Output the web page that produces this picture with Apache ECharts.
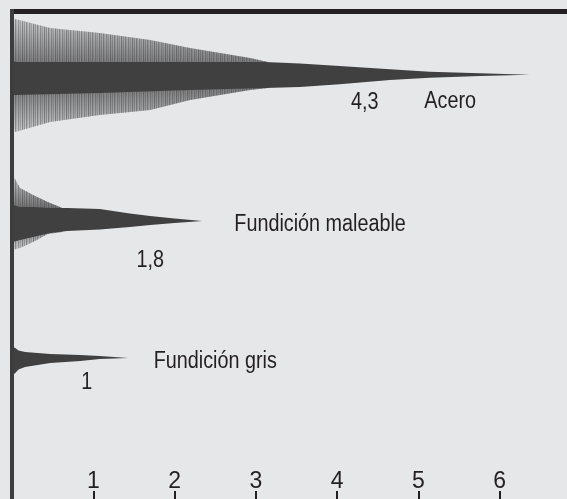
<!DOCTYPE html>
<html>
<head>
<meta charset="utf-8">
<script src="https://cdn.jsdelivr.net/npm/echarts@6/dist/echarts.min.js"></script>
<style>
    html, body { margin: 0; padding: 0; background: #e6e7e8; }
    #main { width: 567px; height: 499px; }
</style>
</head>
<body>
<div id="main"></div>
<script type="text/javascript">
    // eje de tiempo
    var xTicks = [1, 2, 3, 4, 5, 6];
    var names = ['Acero', 'Fundición maleable', 'Fundición gris'];
    var durations = ['4,3', '1,8', '1'];

    // Acero: envolvente del núcleo (arriba / abajo) y de los picos exteriores
    var aceroT        = [0.01, 0.04, 1.08, 2.19, 3.11, 3.54, 4.03, 4.65, 5.14, 5.76, 6.37];
    var aceroUp       = [15, 14, 14, 14, 14, 12.5, 10, 6.7, 4.3, 2.7, 1.3];
    var aceroDown     = [-19, -19, -17, -14, -12, -11, -8.3, -4, -1.7, 0, 1.3];
    var aceroHairT    = [0.01, 0.04, 0.47, 1.08, 1.70, 2.19, 2.93, 3.15];
    var aceroHairUp   = [56, 57, 48, 43, 36, 28, 18, 14];
    var aceroHairDown = [-50, -56, -46, -39, -34, -24, -14, -12];

    // Fundición maleable
    var maleT        = [0.01, 0.10, 0.26, 0.47, 0.68, 1.08, 1.45, 1.70, 2.0, 2.34];
    var maleUp       = [16, 14, 14, 13, 13, 12, 7.5, 5, 2.5, 0];
    var maleDown     = [-21, -19, -16, -12, -10, -8.5, -6, -4, -2, 0];
    var maleHairT    = [0.01, 0.10, 0.26, 0.44, 0.62];
    var maleHairUp   = [46, 33, 26, 19, 13];
    var maleHairDown = [-29, -27, -21, -13, -11];

    // Fundición gris
    var grisT    = [0.01, 0.04, 0.08, 0.16, 0.47, 0.84, 1.08, 1.43];
    var grisUp   = [11, 10, 7.5, 6, 4, 3, 2, 0];
    var grisDown = [-17, -15, -11.5, -9, -5, -3, -1, 0];

    var ink = '#231f20';
    var waveColor = '#404041';
    var fontFamily = 'Liberation Sans';

    // textura de rayas verticales para los picos
    var stripeAlpha = [0.95, 0.25, 0.7, 0.1, 0.85, 0.35, 0.15, 0.75, 0.3, 0.55, 0.1];
    var stripes = document.createElement('canvas');
    stripes.width = stripeAlpha.length;
    stripes.height = 4;
    var sctx = stripes.getContext('2d');
    for (var s = 0; s < stripeAlpha.length; s++) {
        sctx.fillStyle = 'rgba(64,64,65,' + stripeAlpha[s] + ')';
        sctx.fillRect(s, 0, 1, 4);
    }

    function envelope(api, base, t, up, down) {
        var pts = [];
        for (var i = 0; i < t.length; i++) {
            pts.push(api.coord([t[i], base - up[i]]));
        }
        for (var j = t.length - 1; j >= 0; j--) {
            pts.push(api.coord([t[j], base - down[j]]));
        }
        return pts;
    }

    function traceSeries(name, base, core, hair) {
        return {
            name: name,
            type: 'custom',
            coordinateSystem: 'cartesian2d',
            data: [[core.t[0], base]],
            renderItem: function (params, api) {
                var children = [];
                if (hair) {
                    var hairPts = envelope(api, base, hair.t, hair.up, hair.down);
                    children.push({
                        type: 'polygon',
                        shape: { points: hairPts },
                        style: {
                            fill: new echarts.graphic.LinearGradient(0, 0, 0, 1, [
                                { offset: 0, color: 'rgba(64,64,65,0.1)' },
                                { offset: 0.5, color: 'rgba(64,64,65,0.75)' },
                                { offset: 1, color: 'rgba(64,64,65,0.1)' }
                            ])
                        }
                    });
                    children.push({
                        type: 'polygon',
                        shape: { points: hairPts },
                        style: { fill: { image: stripes, repeat: 'repeat' }, opacity: 0.55 }
                    });
                }
                children.push({
                    type: 'polygon',
                    shape: { points: envelope(api, base, core.t, core.up, core.down) },
                    style: { fill: waveColor }
                });
                return { type: 'group', children: children };
            }
        };
    }

    // textos: [x, y]
    var labelTexts = [durations[0], names[0], names[1], durations[1], names[2], durations[2]];
    var labelPos = [[4.34, 87.5], [5.39, 86.5], [3.79, 209.5], [1.70, 245.5], [2.50, 347], [0.92, 367.5]];

    var option = {
        backgroundColor: '#e6e7e8',
        animation: false,
        grid: { left: 12, top: 15, bottom: 0, width: 569, containLabel: false, outerBoundsMode: 'none' },
        xAxis: {
            type: 'value',
            position: 'bottom',
            min: 0,
            max: 7,
            interval: 1,
            axisLine: { show: false, onZero: false },
            splitLine: { show: false },
            axisTick: { inside: true, length: 8, lineStyle: { color: ink, width: 2 } },
            axisLabel: {
                inside: true,
                margin: 6,
                fontSize: 23,
                fontFamily: fontFamily,
                color: ink,
                formatter: function (v) { return xTicks.indexOf(v) >= 0 ? String(v) : ''; }
            }
        },
        yAxis: { type: 'value', min: 0, max: 484, inverse: true, show: false },
        series: [
            traceSeries(names[0], 61, { t: aceroT, up: aceroUp, down: aceroDown },
                { t: aceroHairT, up: aceroHairUp, down: aceroHairDown }),
            traceSeries(names[1], 206, { t: maleT, up: maleUp, down: maleDown },
                { t: maleHairT, up: maleHairUp, down: maleHairDown }),
            traceSeries(names[2], 343, { t: grisT, up: grisUp, down: grisDown }, null),
            {
                type: 'custom',
                coordinateSystem: 'cartesian2d',
                data: labelPos,
                renderItem: function (params, api) {
                    var p = api.coord([api.value(0), api.value(1)]);
                    return {
                        type: 'text',
                        x: p[0],
                        y: p[1],
                        scaleX: 0.86,
                        style: {
                            text: labelTexts[params.dataIndex],
                            fontSize: 23,
                            fontFamily: fontFamily,
                            fill: ink,
                            align: 'center',
                            verticalAlign: 'middle'
                        }
                    };
                }
            }
        ],
        graphic: [
            { type: 'rect', z: 100, shape: { x: 10, y: 9, width: 557, height: 5 }, style: { fill: ink } },
            { type: 'rect', z: 100, shape: { x: 10, y: 9, width: 4, height: 490 }, style: { fill: '#3d3d3d' } }
        ]
    };

    var chart = echarts.init(document.getElementById('main'));
    chart.setOption(option);
</script>
</body>
</html>
